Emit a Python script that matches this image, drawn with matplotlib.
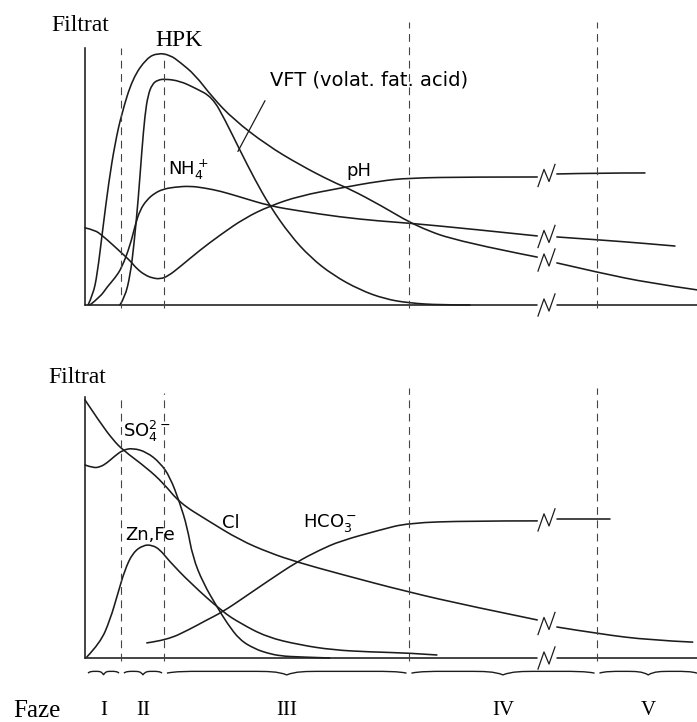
#!/usr/bin/env python3
import matplotlib

matplotlib.use("Agg")
import matplotlib.pyplot as plt
import numpy as np
from matplotlib.patches import PathPatch
from matplotlib.path import Path

# x = relative time (0..100), y = relative filtrate concentration
PHASE_BOUNDS = [5.96, 12.99, 52.94, 83.66]
PHASE_LABELS = ["I", "II", "III", "IV", "V"]
BREAK_X = 75.49

# upper panel
hpk_t = [0.5, 1.3, 2.0, 2.9, 3.9, 4.9, 6.0, 7.8, 10.1, 11.9, 13.9, 15.5, 18.0, 20.8,
         24.2, 29.7, 35.1, 40.5, 43.3, 48.2, 54.3, 61.3, 73.9, 77.1, 84.2, 92.3, 100.0]
hpk_y = [0.0, 4.0, 12.0, 30.0, 49.0, 64.0, 76.0, 90.0, 98.0, 100.0, 99.2, 96.4, 91.3, 82.5,
         73.8, 63.5, 55.6, 48.8, 46.0, 39.7, 31.0, 25.0, 19.0, 16.7, 12.7, 8.7, 6.0]

vft_t = [5.7, 6.5, 7.4, 8.0, 8.7, 9.3, 9.8, 10.3, 11.0, 11.9, 13.1, 15.5, 18.0, 20.8,
         22.9, 25.3, 27.8, 30.2, 33.5, 36.8, 40.5, 44.9, 49.0, 52.9, 58.0, 62.9]
vft_y = [0.0, 2.8, 11.9, 23.8, 41.7, 61.5, 75.4, 83.3, 87.7, 89.3, 89.7, 88.9, 86.1, 82.5,
         73.4, 61.5, 49.6, 39.3, 27.8, 19.0, 11.9, 6.0, 2.4, 0.8, 0.0, 0.0]

nh4_t = [0.8, 2.5, 3.6, 4.9, 6.0, 7.4, 8.2, 9.0, 10.1, 11.4, 12.8, 14.7, 17.2, 19.6,
         22.1, 25.3, 30.2, 35.1, 41.7, 48.2, 52.9, 62.9, 73.9, 77.1, 84.2, 90.7, 96.4]
nh4_y = [0.0, 3.2, 7.1, 10.7, 14.7, 23.8, 31.7, 37.7, 41.7, 44.4, 46.0, 46.8, 47.2, 46.4,
         45.2, 42.9, 39.3, 37.3, 34.9, 33.3, 32.5, 30.2, 27.4, 27.0, 25.8, 24.6, 23.4]

ph_t = [0.0, 1.6, 2.9, 4.4, 6.0, 7.4, 8.5, 9.8, 11.0, 12.3, 13.6, 15.5, 18.8, 22.1,
        26.1, 30.2, 35.1, 41.7, 48.2, 52.9, 62.9, 73.9, 77.1, 84.2, 91.5]
ph_y = [30.6, 29.8, 27.4, 24.2, 20.6, 17.5, 14.3, 11.9, 10.7, 10.3, 11.5, 15.1, 21.8, 27.8,
        34.5, 39.3, 43.3, 46.4, 49.2, 50.4, 50.8, 50.8, 52.0, 52.4, 52.4]

# lower panel
cl_t = [0.0, 2.5, 4.6, 6.2, 10.1, 12.8, 15.5, 19.9, 25.3, 30.2, 34.6, 41.7, 52.8,
        62.9, 73.9, 77.1, 84.2, 92.3, 99.3]
cl_y = [102.4, 93.3, 86.5, 82.5, 75.4, 69.4, 61.5, 54.8, 46.8, 41.7, 38.1, 33.3, 26.2,
        20.6, 15.1, 12.3, 9.5, 7.1, 6.3]

so4_t = [0.0, 1.3, 2.5, 3.6, 4.9, 6.2, 7.8, 10.1, 12.3, 13.9, 15.5, 16.7, 17.6, 19.3,
         21.6, 23.2, 25.3, 27.8, 29.7, 31.9, 35.1, 40.0]
so4_y = [76.6, 75.4, 75.8, 77.4, 80.2, 82.5, 83.3, 81.7, 77.4, 71.8, 61.5, 52.0, 40.1, 29.8,
         20.2, 13.9, 7.1, 3.6, 2.0, 0.8, 0.4, 0.0]

zn_t = [0.3, 2.5, 4.1, 5.4, 6.5, 7.8, 9.5, 11.0, 12.3, 13.6, 17.2, 22.5, 25.3, 29.7,
        35.1, 40.5, 46.6, 52.8, 57.5]
zn_y = [0.4, 6.0, 15.1, 25.8, 34.9, 41.7, 44.8, 44.8, 42.9, 38.9, 29.8, 18.3, 13.9, 8.3,
        5.2, 3.2, 2.4, 2.0, 1.2]

hco3_t = [10.1, 13.4, 17.2, 19.6, 22.5, 26.1, 29.7, 34.6, 38.4, 41.7, 48.2, 52.8, 62.9,
          73.9, 77.1, 85.8]
hco3_y = [6.0, 7.1, 11.5, 14.7, 18.3, 24.2, 30.2, 38.1, 42.9, 46.4, 50.8, 53.6, 54.4,
          54.4, 55.2, 55.2]

base_t = [0.0, 73.9, 77.1, 100.0]
base_y = [0.0, 0.0, 0.0, 0.0]

INK = "#1c1c1c"
LW = 1.15
DASH_KW = dict(color="#454545", lw=0.8, ls=(0, (7, 5)), clip_on=False)
SERIF = "Liberation Serif"
SANS = "DejaVu Sans"


def smooth_path(t, y):
    """Quadratic B-spline path through the read-off points (rendering only)."""
    pts = np.column_stack([t, y])
    if len(pts) < 3:
        return Path(pts, [Path.MOVETO] + [Path.LINETO] * (len(pts) - 1))
    verts = [pts[0]]
    codes = [Path.MOVETO]
    for i in range(1, len(pts) - 1):
        end = pts[i + 1] if i == len(pts) - 2 else (pts[i] + pts[i + 1]) / 2
        verts += [pts[i], end]
        codes += [Path.CURVE3, Path.CURVE3]
    return Path(verts, codes)


def add_line(ax, t, y, lw=LW):
    ax.add_patch(PathPatch(smooth_path(t, y), fill=False, ec=INK, lw=lw,
                           capstyle="round", joinstyle="round", clip_on=False))


def draw_curve(ax, t, y):
    """Plot a curve, cutting it at the axis break and adding the break glyph."""
    t = np.asarray(t)
    y = np.asarray(y)
    left = t < BREAK_X
    add_line(ax, t[left], y[left])
    if (~left).any():
        add_line(ax, t[~left], y[~left])
        yb = (y[left][-1] + y[~left][0]) / 2
        gx = np.array([-1.47, -0.49, 0.33, 1.31])
        gy = np.array([-4.4, 2.4, -2.4, 4.4])
        ax.plot(BREAK_X + gx, yb + gy, color=INK, lw=0.9, clip_on=False)


def draw_frame(ax, axis_top, dash_tops, dash_bottom):
    ax.plot([0, 0], [0, axis_top], color=INK, lw=LW, clip_on=False)
    draw_curve(ax, base_t, base_y)
    for b, top in zip(PHASE_BOUNDS, dash_tops):
        ax.plot([b, b], [dash_bottom, top], **DASH_KW)


def draw_brace(ax, a, b, y0, h=0.7):
    m = (a + b) / 2
    q = min(3.0, (b - a) / 8)
    verts = [
        (a, y0),
        (a + 0.5 * q, y0 + h), (a + q, y0 + h), (a + 2 * q, y0 + h),
        (m - 2 * q, y0 + h),
        (m - q, y0 + h), (m - 0.5 * q, y0 + h), (m, y0 - h),
        (m + 0.5 * q, y0 + h), (m + q, y0 + h), (m + 2 * q, y0 + h),
        (b - 2 * q, y0 + h),
        (b - q, y0 + h), (b - 0.5 * q, y0 + h), (b, y0),
    ]
    codes = ([Path.MOVETO] + [Path.CURVE4] * 3 + [Path.LINETO] + [Path.CURVE4] * 6
             + [Path.LINETO] + [Path.CURVE4] * 3)
    ax.add_patch(PathPatch(Path(verts, codes), fill=False, ec=INK, lw=1.0,
                           clip_on=False))


def main() -> None:
    fig = plt.figure(figsize=(6.97, 7.22), dpi=100)
    ax1 = fig.add_axes([0.1133, 0.5706, 0.8867, 0.3989])
    ax2 = fig.add_axes([0.1133, 0.0443, 0.8867, 0.4224])
    ax1.set_xlim(-0.98, 100)
    ax1.set_ylim(-2, 112.3)
    ax2.set_xlim(-0.98, 100)
    ax2.set_ylim(-12.7, 108.3)
    for ax in (ax1, ax2):
        ax.set_axis_off()

    # upper panel
    draw_frame(ax1, 102.0, [102.0, 100.0, 112.3, 112.3], -1.2)
    for t, y in [(hpk_t, hpk_y), (vft_t, vft_y), (nh4_t, nh4_y), (ph_t, ph_y)]:
        draw_curve(ax1, t, y)
    ax1.plot([25.0, 29.4], [61.0, 81.0], color=INK, lw=0.9)

    ax1.text(-0.8, 111.1, "Filtrat", family=SERIF, fontsize=17, ha="center", va="center")
    ax1.text(15.4, 105.0, "HPK", family=SERIF, fontsize=17, ha="center", va="center")
    ax1.text(30.2, 89.3, "VFT (volat. fat. acid)", family=SANS, fontsize=14,
             ha="left", va="center")
    ax1.text(16.8, 53.6, r"NH$_4^+$", family=SANS, fontsize=13, ha="center", va="center")
    ax1.text(44.8, 53.2, "pH", family=SANS, fontsize=13, ha="center", va="center")

    # lower panel
    draw_frame(ax2, 103.6, [103.2, 105.2, 107.1, 107.1], -1.0)
    for t, y in [(cl_t, cl_y), (so4_t, so4_y), (zn_t, zn_y), (hco3_t, hco3_y)]:
        draw_curve(ax2, t, y)

    ax2.text(-1.3, 111.1, "Filtrat", family=SERIF, fontsize=17, ha="center", va="center")
    ax2.text(6.2, 89.7, r"SO$_4^{2-}$", family=SANS, fontsize=13, ha="left", va="center")
    ax2.text(6.5, 48.8, "Zn,Fe", family=SANS, fontsize=13, ha="left", va="center")
    ax2.text(22.4, 53.6, "Cl", family=SANS, fontsize=13, ha="left", va="center")
    ax2.text(35.6, 53.6, r"HCO$_3^-$", family=SANS, fontsize=13, ha="left", va="center")

    # phase braces and labels
    edges = [0.5] + PHASE_BOUNDS + [100.0]
    for i, label in enumerate(PHASE_LABELS):
        a = edges[i] + (0.0 if i == 0 else 0.4)
        b = edges[i + 1] - (0.0 if i == len(PHASE_LABELS) - 1 else 0.4)
        draw_brace(ax2, a, b, -6.0)
        ax2.text((a + b) / 2, -21.0, label, family=SERIF, fontsize=15,
                 ha="center", va="center")
    ax2.text(-7.8, -21.0, "Faze", family=SERIF, fontsize=18, ha="center", va="center")

    fig.savefig("out.png", dpi=100)


if __name__ == "__main__":
    main()
